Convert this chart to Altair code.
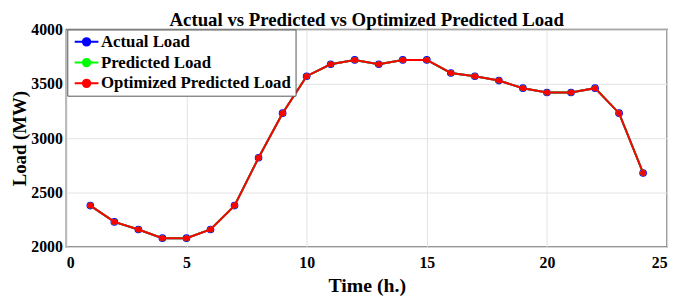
import altair as alt
import pandas as pd

hours = list(range(1, 25))
actual = [2380, 2230, 2160, 2080, 2080, 2160, 2380, 2820, 3230, 3570, 3680, 3720,
          3680, 3720, 3720, 3600, 3570, 3530, 3460, 3420, 3420, 3460, 3230, 2680]
predicted = [2380, 2230, 2160, 2080, 2080, 2160, 2380, 2820, 3230, 3570, 3680, 3720,
             3680, 3720, 3720, 3600, 3570, 3530, 3460, 3420, 3420, 3460, 3230, 2680]
optimized = [2380, 2230, 2160, 2080, 2080, 2160, 2380, 2820, 3230, 3570, 3680, 3720,
             3680, 3720, 3720, 3600, 3570, 3530, 3460, 3420, 3420, 3460, 3230, 2680]

series_names = ["Actual Load", "Predicted Load", "Optimized Predicted Load"]
series_values = [actual, predicted, optimized]
series_colors = ["#0000ff", "#00ff00", "#ff0000"]
point_sizes = [60, 36, 36]

FONT = "'Liberation Serif', 'Times New Roman', Times, serif"
legend_path = ("M-1.6,0L1.6,0M-0.5,0A0.5,0.5,0,1,1,0.5,0A0.5,0.5,0,1,1,-0.5,0Z")

color_scale = alt.Scale(domain=series_names, range=series_colors)

x_enc = alt.X("hour:Q", scale=alt.Scale(domain=[0, 25], nice=False),
              axis=alt.Axis(values=[0, 5, 10, 15, 20, 25], title="Time (h.)", format="d"))
y_enc = alt.Y("load:Q", scale=alt.Scale(domain=[2000, 4000], nice=False),
              axis=alt.Axis(values=[2000, 2500, 3000, 3500, 4000], title="Load (MW)",
                            format="d"))

layers = []
for name, vals, size in zip(series_names, series_values, point_sizes):
    df = pd.DataFrame({"hour": hours, "load": vals, "series": name})
    base = alt.Chart(df).encode(
        x=x_enc, y=y_enc,
        color=alt.Color("series:N", scale=color_scale, title=None,
                        legend=alt.Legend(
                            orient="none", legendX=1, legendY=0,
                            direction="vertical",
                            symbolType=legend_path, symbolSize=225,
                            symbolStrokeWidth=2, symbolOffset=7,
                            labelFont=FONT, labelFontWeight="bold",
                            labelFontSize=17, labelColor="black",
                            labelOffset=6, labelLimit=400,
                            padding=4, rowPadding=3,
                            strokeColor="#555555", fillColor="white",
                            cornerRadius=0)),
    )
    layers.append(base.mark_line(strokeWidth=2))
    layers.append(base.mark_circle(size=size, opacity=1))

chart = alt.layer(*layers).properties(
    width=608, height=220,
    title=alt.TitleParams("Actual vs Predicted vs Optimized Predicted Load",
                          font=FONT, fontSize=19, fontWeight="bold",
                          color="black", anchor="middle", offset=0, dy=8),
    autosize=alt.AutoSizeParams(type="none"),
    padding={"left": 59, "top": 20, "right": 10, "bottom": 52},
).configure_axis(
    labelFont=FONT, labelFontWeight="bold", labelFontSize=16, labelColor="black",
    titleFont=FONT, titleFontWeight="bold", titleFontSize=20, titleColor="black",
    grid=True, gridColor="#e3e3e3", gridWidth=1,
    ticks=False, domain=False,
).configure_axisX(titlePadding=5, labelPadding=8).configure_axisY(
    titlePadding=1, labelPadding=4, titleFontSize=19
).configure_view(
    stroke="#666666", strokeWidth=1.5
)

chart.save("out.html", embed_options={"renderer": "svg", "actions": False})
